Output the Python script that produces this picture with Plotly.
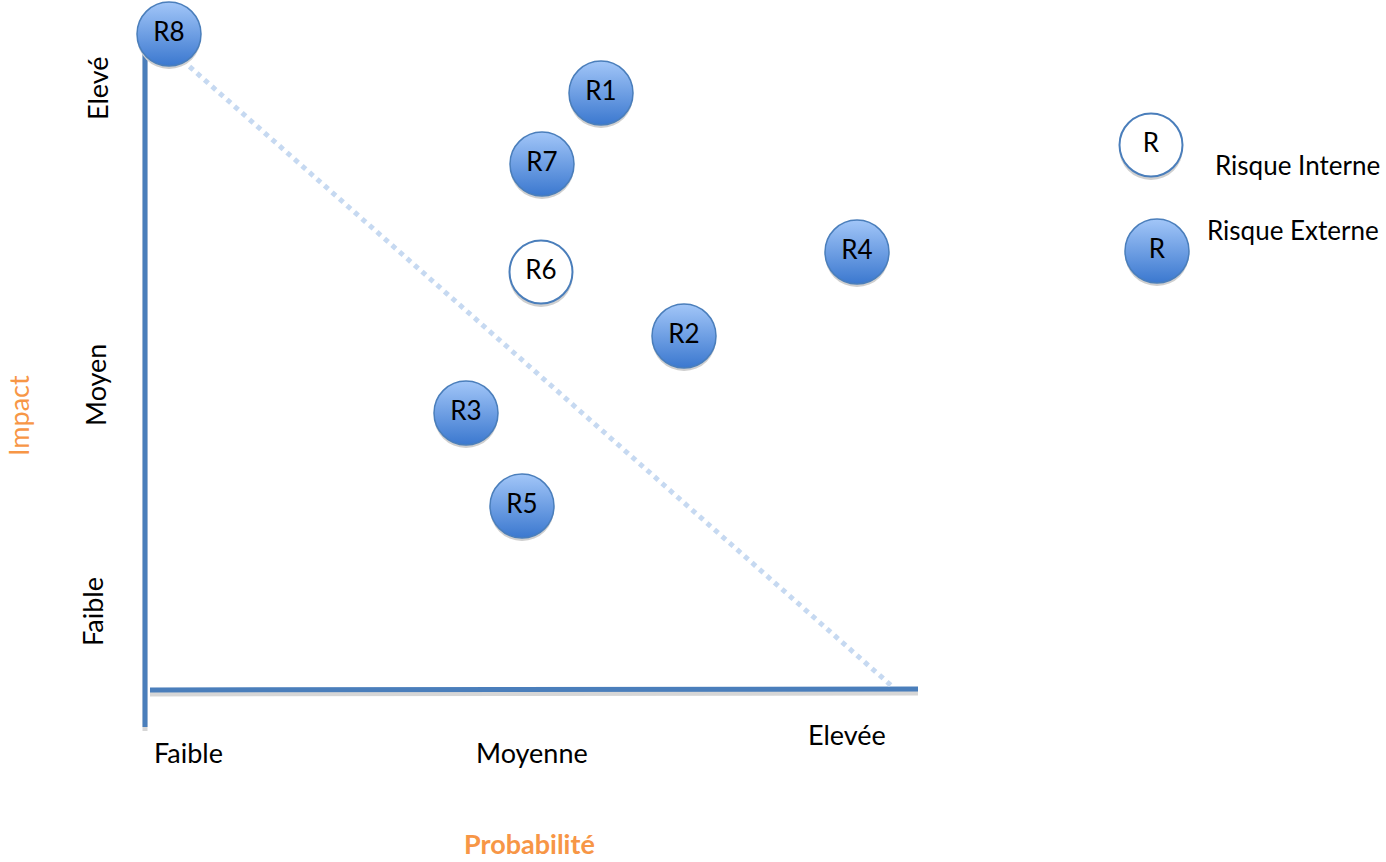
import plotly.graph_objects as go

# Risk bubbles (positions on a canvas-like scale: x = probability, y = impact, y grows downward)
risk_labels = ["R8", "R1", "R7", "R6", "R4", "R2", "R3", "R5"]
risk_x = [169, 601, 542, 541, 857, 684, 466, 522]
risk_y = [34, 93, 164, 272, 252, 336, 413, 506]
risk_type = ["Externe", "Externe", "Externe", "Interne", "Externe", "Externe", "Externe", "Externe"]

legend_labels = ["Risque Interne", "Risque Externe"]
legend_x = [1151, 1157]
legend_y = [145, 251]
legend_type = ["Interne", "Externe"]
legend_text_x = [1213, 1205]
legend_text_y = [165, 230]

# Axis lines
vaxis_x = [145, 145]
vaxis_y = [36, 727]
haxis_x = [150, 918]
haxis_y = [690, 689]
diag_x = [182, 894]
diag_y = [60, 688]

impact_ticks = ["Elevé", "Moyen", "Faible"]
impact_tick_x = [97, 95, 92]
impact_tick_y = [88, 385, 612]
prob_ticks = ["Faible", "Moyenne", "Elevée"]
prob_tick_x = [188, 532, 847]
prob_tick_y = [752, 752, 734]

W, H = 1386, 862
FONT = "Lato"
FS = 27
BLUE = "#4a7ebb"
SHADOW = "#cfcfcf"

fig = go.Figure()

def line(xs, ys, color, width, dash="solid", shadow=True):
    if shadow:
        fig.add_trace(go.Scatter(x=xs, y=[v + 4 for v in ys], mode="lines",
                                 line=dict(color="#d6d6d6", width=width), hoverinfo="skip"))
    fig.add_trace(go.Scatter(x=xs, y=ys, mode="lines",
                             line=dict(color=color, width=width, dash=dash), hoverinfo="skip"))

line(vaxis_x, vaxis_y, BLUE, 5)
line(haxis_x, haxis_y, BLUE, 5)
line(diag_x, diag_y, "#c6d9f1", 5, dash="dot", shadow=False)

def bubbles(xs, ys, types, texts):
    # shadows
    fig.add_trace(go.Scatter(x=xs, y=[v + 3 for v in ys], mode="markers",
                             marker=dict(size=64, color=SHADOW, line=dict(width=0)),
                             hoverinfo="skip"))
    ext = [i for i, t in enumerate(types) if t == "Externe"]
    intr = [i for i, t in enumerate(types) if t == "Interne"]
    if ext:
        fig.add_trace(go.Scatter(x=[xs[i] for i in ext], y=[ys[i] for i in ext], mode="markers",
                                 marker=dict(size=64, color="#a2c6f8",
                                             gradient=dict(type="vertical", color="#3b78cf"),
                                             line=dict(color=BLUE, width=1.5)),
                                 hoverinfo="skip"))
    if intr:
        fig.add_trace(go.Scatter(x=[xs[i] for i in intr], y=[ys[i] for i in intr], mode="markers",
                                 marker=dict(size=63, color="white",
                                             line=dict(color=BLUE, width=2)),
                                 hoverinfo="skip"))
    fig.add_trace(go.Scatter(x=xs, y=ys, mode="text", text=texts,
                             textfont=dict(family=FONT, size=FS - 1, color="black"),
                             hoverinfo="skip"))

bubbles(risk_x, risk_y, risk_type, risk_labels)
bubbles(legend_x, legend_y, legend_type, ["R", "R"])

ann = []
for t, x, y in zip(legend_labels, legend_text_x, legend_text_y):
    ann.append(dict(x=x, y=y, text=t, xanchor="left", yanchor="middle", showarrow=False,
                    font=dict(family=FONT, size=FS - 1, color="black")))
for t, x, y in zip(impact_ticks, impact_tick_x, impact_tick_y):
    ann.append(dict(x=x, y=y, text=t, textangle=-90, xanchor="center", yanchor="middle",
                    showarrow=False, font=dict(family=FONT, size=FS, color="black")))
for t, x, y in zip(prob_ticks, prob_tick_x, prob_tick_y):
    ann.append(dict(x=x, y=y, text=t, xanchor="center", yanchor="middle", showarrow=False,
                    font=dict(family=FONT, size=FS, color="black")))
ann.append(dict(x=529, y=H, text="<b>Probabilité</b>", xanchor="center", yanchor="bottom",
                showarrow=False, font=dict(family=FONT, size=FS, color="#f79646")))
ann.append(dict(x=18, y=416, text="Impact", textangle=-90, xanchor="center", yanchor="middle",
                showarrow=False, font=dict(family=FONT, size=27, color="#f79646")))

fig.update_layout(
    width=W, height=H, margin=dict(l=0, r=0, t=0, b=0),
    paper_bgcolor="white", plot_bgcolor="white", showlegend=False,
    xaxis=dict(range=[0, W], visible=False, fixedrange=True),
    yaxis=dict(range=[H, 0], visible=False, fixedrange=True),
    annotations=ann,
)
for a in fig.layout.annotations:
    a.xref = "x"
    a.yref = "y"

fig.write_html("out.html")
